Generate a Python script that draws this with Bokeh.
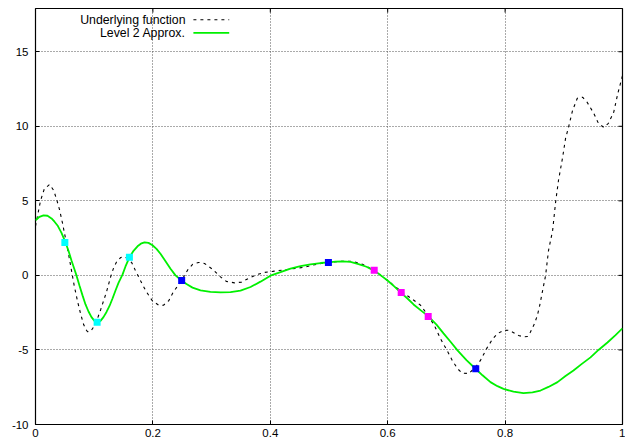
from bokeh.plotting import figure
from bokeh.models import LinearAxis, FixedTicker, Range1d, Label
from bokeh.embed import file_html
from bokeh.resources import INLINE

# Underlying function, sampled along x
x_true = [0.000, 0.0085, 0.015, 0.024, 0.031, 0.036, 0.041, 0.046, 0.051, 0.056,
          0.061, 0.066, 0.072, 0.077, 0.082, 0.087, 0.090, 0.095, 0.101, 0.106,
          0.111, 0.116, 0.121, 0.128, 0.133, 0.138, 0.145, 0.150, 0.157, 0.164,
          0.170, 0.177, 0.182, 0.189, 0.199, 0.210, 0.218, 0.227, 0.235, 0.249,
          0.259, 0.268, 0.278, 0.288, 0.302, 0.315, 0.325, 0.339, 0.351, 0.363,
          0.377, 0.390, 0.404, 0.429, 0.457, 0.479, 0.499, 0.520, 0.540, 0.557,
          0.576, 0.588, 0.605, 0.624, 0.642, 0.656, 0.670, 0.680, 0.690, 0.700,
          0.710, 0.719, 0.727, 0.738, 0.750, 0.758, 0.770, 0.779, 0.787, 0.797,
          0.806, 0.813, 0.823, 0.831, 0.838, 0.843, 0.850, 0.855, 0.859, 0.864,
          0.869, 0.874, 0.881, 0.886, 0.891, 0.898, 0.903, 0.908, 0.915, 0.923,
          0.932, 0.940, 0.951, 0.959, 0.968, 0.976, 0.985, 0.992, 1.000]
y_true = [3.3, 5.0, 5.8, 6.1, 5.7, 5.1, 4.4, 3.5, 2.5, 1.5,
          0.4, -0.7, -1.8, -2.6, -3.3, -3.7, -3.8, -3.7, -3.35, -2.85,
          -2.3, -1.7, -1.1, -0.1, 0.5, 0.9, 1.2, 1.25, 1.15, 0.85,
          0.35, -0.2, -0.6, -1.1, -1.7, -2.0, -2.0, -1.7, -1.1, -0.34,
          0.35, 0.75, 0.87, 0.8, 0.4, -0.1, -0.4, -0.5, -0.45, -0.2,
          0.05, 0.2, 0.27, 0.4, 0.54, 0.75, 0.87, 0.94, 0.94, 0.75,
          0.35, 0.0, -0.5, -1.1, -1.6, -2.0, -2.75, -3.4, -4.25, -4.95,
          -5.7, -6.26, -6.56, -6.58, -6.15, -5.7, -4.81, -4.25, -3.91, -3.69,
          -3.68, -3.81, -4.03, -4.12, -4.1, -3.81, -3.24, -2.68, -2.01, -1.0,
          0.0, 1.68, 3.02, 4.9, 6.38, 7.92, 9.19, 9.93, 11.07, 11.88,
          11.95, 11.6, 10.87, 10.2, 9.93, 10.2, 10.94, 12.2, 13.4]

# Level 2 approximation
x_approx = [0.000, 0.0068, 0.0136, 0.0204, 0.0273, 0.0324, 0.0375, 0.0443, 0.0511, 0.0562,
            0.0613, 0.0656, 0.0698, 0.075, 0.0801, 0.0852, 0.0903, 0.0954, 0.1005, 0.1056,
            0.1107, 0.1158, 0.121, 0.1261, 0.1312, 0.1363, 0.1414, 0.1482, 0.1533, 0.1601,
            0.167, 0.1738, 0.1806, 0.1857, 0.1925, 0.1993, 0.2061, 0.2129, 0.2198, 0.230,
            0.2385, 0.2487, 0.2572, 0.2675, 0.2811, 0.2981, 0.3152, 0.3322, 0.3492, 0.3663,
            0.3833, 0.4003, 0.4174, 0.4344, 0.4514, 0.4685, 0.4855, 0.4991, 0.5111, 0.523,
            0.5366, 0.5503, 0.5639, 0.5758, 0.5877, 0.5997, 0.6116, 0.6218, 0.6337, 0.644,
            0.6559, 0.6695, 0.6831, 0.6951, 0.707, 0.7189, 0.7342, 0.7496, 0.7615, 0.7751,
            0.787, 0.7973, 0.8143, 0.8313, 0.8467, 0.8603, 0.8739, 0.8893, 0.9029, 0.9165,
            0.9302, 0.9455, 0.9591, 0.9744, 0.9881, 1.000]
y_approx = [3.7, 3.93, 4.03, 4.0, 3.82, 3.6, 3.35, 2.85, 2.21, 1.65,
            1.0, 0.5, 0.0, -0.7, -1.34, -1.95, -2.42, -2.8, -3.05, -3.15,
            -3.05, -2.8, -2.45, -2.05, -1.55, -1.01, -0.5, 0.05, 0.6, 1.21,
            1.65, 1.95, 2.15, 2.22, 2.18, 2.02, 1.78, 1.45, 1.05, 0.45,
            0.0, -0.34, -0.58, -0.82, -1.0, -1.1, -1.14, -1.12, -1.02, -0.78,
            -0.42, -0.02, 0.22, 0.45, 0.62, 0.74, 0.83, 0.87, 0.92, 0.94,
            0.9, 0.76, 0.58, 0.34, 0.02, -0.34, -0.75, -1.14, -1.55, -1.95,
            -2.33, -2.75, -3.3, -3.89, -4.45, -5.03, -5.68, -6.26, -6.7, -7.16,
            -7.43, -7.61, -7.8, -7.9, -7.85, -7.72, -7.48, -7.16, -6.75, -6.38,
            -5.95, -5.5, -5.0, -4.5, -4.0, -3.55]

# Sample nodes of each refinement level
x_nodes_0 = [0.249, 0.499, 0.750]
y_nodes_0 = [-0.34, 0.87, -6.26]
x_nodes_1 = [0.050, 0.105, 0.160]
y_nodes_1 = [2.21, -3.15, 1.21]
x_nodes_2 = [0.577, 0.623, 0.669]
y_nodes_2 = [0.34, -1.14, -2.75]

x_ticks = [0, 0.2, 0.4, 0.6, 0.8, 1]
x_tick_labels = ["0", "0.2", "0.4", "0.6", "0.8", "1"]
y_ticks = [-10, -5, 0, 5, 10, 15]
y_tick_labels = ["-10", "-5", "0", "5", "10", "15"]

FONT = "Liberation Sans"
GREEN = "#00f000"

X0, X1 = 0.0, 1.0
Y0, Y1 = -10.0, 17.9
W, H = 625, 442
BL, BR, BT, BB = 35, 3, 8, 18

p = figure(width=W, height=H, output_backend="svg", toolbar_location=None,
           x_range=Range1d(X0, X1), y_range=Range1d(Y0, Y1),
           min_border_left=BL, min_border_right=BR, min_border_top=BT,
           min_border_bottom=BB, x_axis_location=None, y_axis_location=None)
p.background_fill_color = "white"
p.border_fill_color = "white"
p.outline_line_color = "black"
p.outline_line_width = 1.2


def make_axis(ticks, labels, standoff):
    ax = LinearAxis(ticker=FixedTicker(ticks=ticks))
    ax.axis_line_color = None
    ax.major_tick_in = 4
    ax.major_tick_out = 0
    ax.major_tick_line_color = "black"
    ax.minor_tick_line_color = None
    ax.major_label_overrides = {t: s for t, s in zip(ticks, labels)}
    ax.major_label_text_font = FONT
    ax.major_label_text_font_size = "11.5px"
    ax.major_label_text_color = "black"
    ax.major_label_standoff = standoff
    return ax


p.add_layout(make_axis(x_ticks, x_tick_labels, 4), "below")
p.add_layout(make_axis(y_ticks, y_tick_labels, 7), "left")

# grid
p.xgrid.ticker = FixedTicker(ticks=x_ticks)
p.ygrid.ticker = FixedTicker(ticks=y_ticks)
for g in (p.xgrid, p.ygrid):
    g.grid_line_color = "#555555"
    g.grid_line_dash = "1 2"
    g.grid_line_width = 1

# mirrored inward ticks on the top and right edges of the frame
tick_px = 4
dx = tick_px * (X1 - X0) / (W - BL - BR)
dy = tick_px * (Y1 - Y0) / (H - BT - BB)
p.segment(x0=x_ticks, y0=[Y1] * len(x_ticks), x1=x_ticks, y1=[Y1 - dy] * len(x_ticks),
          line_color="black", line_width=1)
p.segment(x0=[X1] * len(y_ticks), y0=y_ticks, x1=[X1 - dx] * len(y_ticks), y1=y_ticks,
          line_color="black", line_width=1)

p.line(x_true, y_true, line_color="black", line_width=1.1, line_dash="3 4")
p.line(x_approx, y_approx, line_color=GREEN, line_width=1.8)

p.scatter(x_nodes_1, y_nodes_1, marker="square", size=7, fill_color="cyan", line_color=None)
p.scatter(x_nodes_0, y_nodes_0, marker="square", size=7, fill_color="blue", line_color=None)
p.scatter(x_nodes_2, y_nodes_2, marker="square", size=7, fill_color="magenta", line_color=None)

# key in the upper left: label on the left, line sample on the right
key_x_text = 0.2555
key_x0, key_x1 = 0.269, 0.330
key_rows = [17.15, 16.27]
p.add_layout(Label(x=key_x_text, y=key_rows[0], text="Underlying function",
                   text_align="right", text_baseline="middle",
                   text_font=FONT, text_font_size="12.3px", text_color="black"))
p.add_layout(Label(x=key_x_text, y=key_rows[1], text="Level 2 Approx.",
                   text_align="right", text_baseline="middle",
                   text_font=FONT, text_font_size="12.3px", text_color="black"))
p.line([key_x0, key_x1], [key_rows[0], key_rows[0]], line_color="black",
       line_width=1.1, line_dash="3 4")
p.line([key_x0, key_x1], [key_rows[1], key_rows[1]], line_color=GREEN, line_width=1.8)

open("out.html", "w").write(file_html(p, INLINE))
